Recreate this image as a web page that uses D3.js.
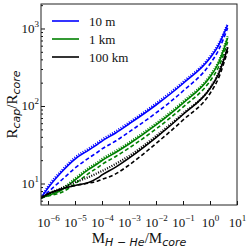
<!DOCTYPE html>
<html>
<head>
<meta charset="utf-8">
<script src="https://cdn.jsdelivr.net/npm/d3@7"></script>
<style>
  body { margin: 0; background: #fff; }
  svg { display: block; }
  text { font-family: "Liberation Serif", "DejaVu Serif", serif; fill: #111; }
</style>
</head>
<body>
<svg id="chart" width="249" height="249"></svg>
<script>
// shared x grid (M_H-He / M_core)
var massRatio = [5.5e-7, 1e-6, 3.2e-6, 1e-5, 3.2e-5, 7e-5, 1e-4, 3.2e-4, 1e-3, 1e-2, 0.1, 1, 2, 4.5];

// 10 m
var blueSolid  = [6.5, 8.75, 14.1, 20.7, 27.0, 32.3, 35.3, 44.9, 58.6, 103, 195, 416, 594, 1110];
var blueDotted = [6.5, 9.15, 14.7, 21.7, 28.2, 33.8, 36.9, 47.0, 61.3, 108, 204, 435, 621, 1160];
var blueDashed = [6.5, 7.76, 11.1, 15.8, 21.3, 25.5, 27.9, 35.3, 46.2, 81.3, 156, 348, 513, 1014];
// 1 km
var greenSolid  = [6.5, 7.0, 8.24, 11.1, 15.2, 18.1, 19.8, 25.1, 32.3, 56.9, 109, 237, 348, 754];
var greenDotted = [6.5, 7.05, 8.45, 11.6, 15.9, 18.9, 20.7, 26.3, 33.8, 59.5, 114, 248, 364, 789];
var greenDashed = [6.5, 6.9, 7.7, 9.9, 13.5, 16.1, 17.6, 22.3, 28.7, 50.5, 96.8, 210, 309, 670];
// 100 km
var blackSolid  = [6.5, 7.33, 8.49, 9.42, 10.3, 11.8, 12.9, 16.3, 21.3, 39.2, 77.7, 168, 251, 560];
var blackDotted = [6.5, 7.33, 8.75, 10.4, 12.1, 13.7, 14.5, 17.9, 22.6, 41.0, 80.0, 171, 259, 577];
var blackDashed = [6.5, 7.33, 8.49, 9.42, 10.1, 10.8, 11.3, 13.3, 17.3, 32.8, 65.9, 145, 223, 513];

var legendLabels = ["10 m", "1 km", "100 km"];
var colors = ["#0000ff", "#008000", "#000000"];
var xTickExp = [-6, -5, -4, -3, -2, -1, 0, 1];
var yTickExp = [1, 2, 3];

var svg = d3.select("#chart"),
    margin = {top: 4, right: 12, bottom: 44, left: 41},
    width = +svg.attr("width") - margin.left - margin.right,
    height = +svg.attr("height") - margin.top - margin.bottom,
    g = svg.append("g").attr("transform", "translate(" + margin.left + "," + margin.top + ")");

var x = d3.scaleLog().domain([5.5e-7, 10]).range([0, width]);
var y = d3.scaleLog().domain([5.28, 2070]).range([height, 0]);

var line = d3.line()
    .x(function(d, i) { return x(massRatio[i]); })
    .y(function(d) { return y(d); })
    .curve(d3.curveMonotoneX);

var series = [
    {data: blueSolid, c: 0, style: "solid"},
    {data: blueDashed, c: 0, style: "dashed"},
    {data: blueDotted, c: 0, style: "dotted"},
    {data: greenSolid, c: 1, style: "solid"},
    {data: greenDashed, c: 1, style: "dashed"},
    {data: greenDotted, c: 1, style: "dotted"},
    {data: blackSolid, c: 2, style: "solid"},
    {data: blackDashed, c: 2, style: "dashed"},
    {data: blackDotted, c: 2, style: "dotted"}
];

g.append("defs").append("clipPath").attr("id", "clip")
    .append("rect").attr("width", width).attr("height", height);

g.append("g").attr("clip-path", "url(#clip)")
  .selectAll("path")
  .data(series)
  .enter().append("path")
    .attr("fill", "none")
    .attr("stroke", function(d) { return colors[d.c]; })
    .attr("stroke-width", function(d) { return d.style === "dotted" ? 2.2 : 1.6; })
    .attr("stroke-dasharray", function(d) {
        return d.style === "dashed" ? "4,2.5" : d.style === "dotted" ? "1,1.5" : null;
    })
    .attr("d", function(d) { return line(d.data); });

// x axis, ticks inward
var xAxis = g.append("g")
    .attr("transform", "translate(0," + height + ")")
    .call(d3.axisBottom(x)
        .tickValues(xTickExp.map(function(e) { return Math.pow(10, e); }))
        .tickSizeInner(-4).tickSizeOuter(0).tickFormat(""));
xAxis.select(".domain").remove();
xAxis.selectAll(".tick line").attr("stroke", "#111");
xAxis.selectAll(".tick").append("text")
    .attr("y", 22).attr("text-anchor", "middle").attr("font-size", 13)
    .each(function(d) {
        var t = d3.select(this), e = Math.round(Math.log10(d));
        t.append("tspan").text("10");
        t.append("tspan").attr("dy", -6).attr("font-size", 9).text(e < 0 ? "\u2212" + (-e) : e);
    });

// y axis with minor ticks
var yTicks = [];
[1, 10, 100, 1000].forEach(function(b) {
    for (var k = 1; k < 10; k++) {
        var v = b * k;
        if (v >= 5.28 && v <= 2070) yTicks.push(v);
    }
});
function isDecade(d) { return Math.abs(Math.log10(d) - Math.round(Math.log10(d))) < 1e-9; }
var yAxis = g.append("g")
    .call(d3.axisLeft(y).tickValues(yTicks).tickSizeInner(0).tickSizeOuter(0).tickFormat(""));
yAxis.select(".domain").remove();
yAxis.selectAll(".tick line")
    .attr("stroke", "#111")
    .attr("x2", function(d) { return isDecade(d) ? 4 : 2; });
yAxis.selectAll(".tick")
    .filter(function(d) { return isDecade(d) && yTickExp.indexOf(Math.round(Math.log10(d))) >= 0; })
    .append("text")
    .attr("x", -2).attr("dy", 4).attr("text-anchor", "end").attr("font-size", 13)
    .each(function(d) {
        var t = d3.select(this);
        t.append("tspan").text("10");
        t.append("tspan").attr("dy", -6).attr("font-size", 9).text(Math.round(Math.log10(d)));
    });

// frame
g.append("rect")
    .attr("width", width).attr("height", height)
    .attr("fill", "none").attr("stroke", "#222").attr("stroke-width", 1);

// legend
var legend = g.selectAll(".legend")
    .data(legendLabels)
  .enter().append("g")
    .attr("transform", function(d, i) { return "translate(11," + (17 + i * 18) + ")"; });
legend.append("line")
    .attr("x1", 0).attr("x2", 27)
    .attr("stroke", function(d, i) { return colors[i]; })
    .attr("stroke-width", 1.6);
legend.append("text")
    .attr("x", 37).attr("dy", 4.5).attr("font-size", 13)
    .text(function(d) { return d; });

// x label
var xl = svg.append("text")
    .attr("x", margin.left + width / 2).attr("y", 243)
    .attr("text-anchor", "middle").attr("font-size", 15);
xl.append("tspan").text("M");
xl.append("tspan").attr("dy", 3).attr("font-size", 11).attr("font-style", "italic")
    .attr("font-family", "DejaVu Sans, sans-serif").text("H \u2212 He");
xl.append("tspan").attr("dy", -3).text("/M");
xl.append("tspan").attr("dy", 3).attr("font-size", 11).attr("font-style", "italic")
    .attr("font-family", "DejaVu Sans, sans-serif").text("core");

// y label
var yl = svg.append("text")
    .attr("transform", "translate(17," + (margin.top + height / 2) + ") rotate(-90)")
    .attr("text-anchor", "middle").attr("font-size", 15);
yl.append("tspan").text("R");
yl.append("tspan").attr("dy", 3).attr("font-size", 11).attr("font-style", "italic")
    .attr("font-family", "DejaVu Sans, sans-serif").text("cap");
yl.append("tspan").attr("dy", -3).text("/R");
yl.append("tspan").attr("dy", 3).attr("font-size", 11).attr("font-style", "italic")
    .attr("font-family", "DejaVu Sans, sans-serif").text("core");
</script>
</body>
</html>
